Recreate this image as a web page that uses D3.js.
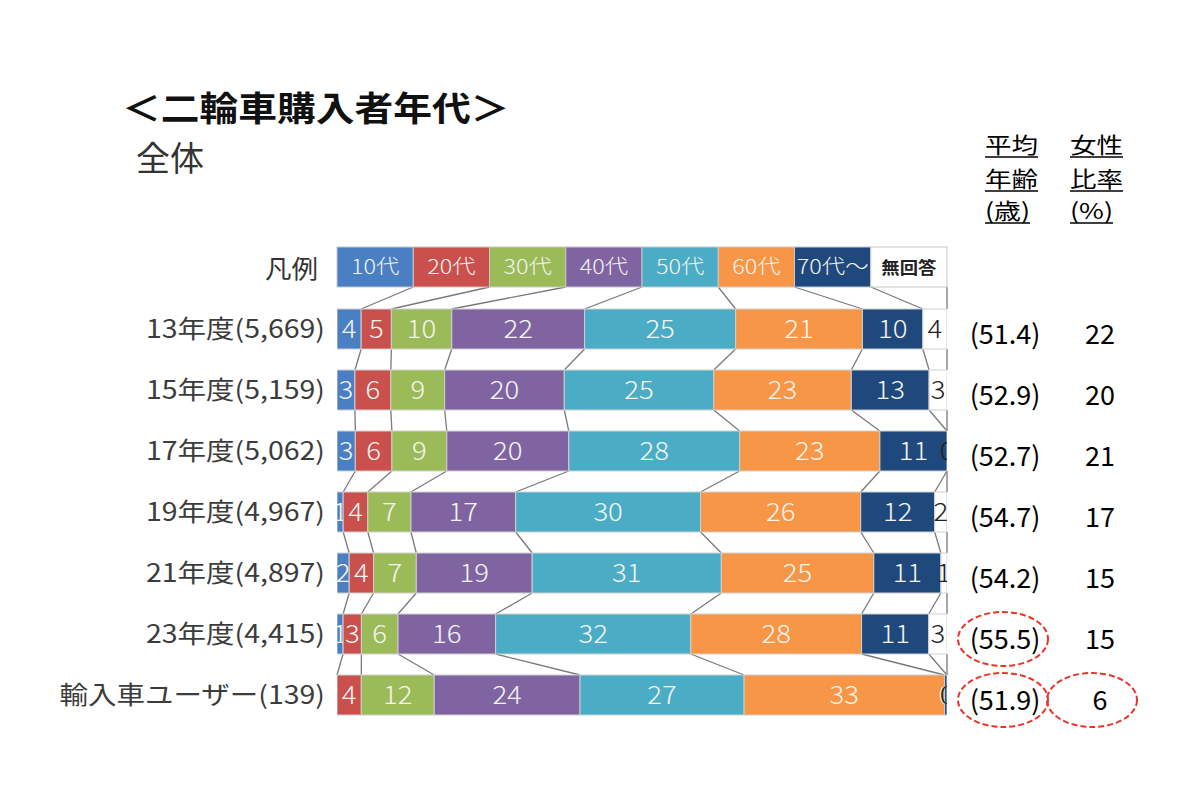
<!DOCTYPE html>
<html>
  <head>
    <meta charset="utf-8">
    <title>二輪車購入者年代</title>
    <style>
      body {
        margin: 0;
        background: #fff;
        font-family: 'Noto Sans CJK JP', 'Noto Sans', sans-serif;
      }
      .row-label {
        fill: #3c3c3c;
        font-size: 25px;
      }
      .seg-label {
        font-size: 25px;
        font-weight: 300;
      }
      .col-head {
        font-size: 22px;
        fill: #000;
      }
      .col-val {
        font-size: 27px;
        fill: #000;
      }
    </style>
  </head>
  <body>
    <svg width="1200" height="800"></svg>
    <script src="https://d3js.org/d3.v7.min.js"></script>
    <script>
      const ageGroups = ['10代', '20代', '30代', '40代', '50代', '60代', '70代～', '無回答'];
      const rowLabels = [
        '13年度(5,669)', '15年度(5,159)', '17年度(5,062)', '19年度(4,967)',
        '21年度(4,897)', '23年度(4,415)', '輸入車ユーザー(139)'
      ];
      // % per age group, same order as ageGroups
      const shares = [
        [4, 5, 10, 22, 25, 21, 10, 4],
        [3, 6, 9, 20, 25, 23, 13, 3],
        [3, 6, 9, 20, 28, 23, 11, 0],
        [1, 4, 7, 17, 30, 26, 12, 2],
        [2, 4, 7, 19, 31, 25, 11, 1],
        [1, 3, 6, 16, 32, 28, 11, 3],
        [0, 4, 12, 24, 27, 33, 0.4, 0]
      ];
      const avgAge = [51.4, 52.9, 52.7, 54.7, 54.2, 55.5, 51.9];
      const femaleRatio = [22, 20, 21, 17, 15, 15, 6];
      const avgCircled = [false, false, false, false, false, true, true];
      const femaleCircled = [false, false, false, false, false, false, true];

      const colors = ['#4a7fc4', '#c9504c', '#9bbb59', '#8064a2', '#4bacc6', '#f79646', '#1f497d', '#ffffff'];

      const svg = d3.select('svg');

      const x = d3.scaleLinear().domain([0, 1]).range([337, 947]);
      const y = d3.scalePoint().domain(rowLabels).range([329, 695]);
      const barH = 40;
      const color = d3.scaleOrdinal().domain(ageGroups).range(colors);

      const legendX = d3.scaleBand().domain(ageGroups).range([337, 947]);
      const legendTop = 247, legendBottom = 287;

      const rows = rowLabels.map((label, i) => {
        const o = {label};
        ageGroups.forEach((g, k) => { o[g] = shares[i][k]; });
        return o;
      });
      const series = d3.stack().keys(ageGroups).offset(d3.stackOffsetExpand)(rows);

      // horizontally stretched text, like the original slide
      const stretchText = (sel, tx, ty, sx, str, anchor) => {
        const g = sel.append('g').attr('transform', `translate(${tx},${ty}) scale(${sx},1)`);
        return g.append('text').attr('text-anchor', anchor || 'start').text(str);
      };

      // titles
      stretchText(svg, 122, 121, 1.14, '＜二輪車購入者年代＞')
        .style('font-size', '34px').style('font-weight', 'bold').attr('fill', '#111');
      stretchText(svg, 136, 171, 1.0, '全体')
        .style('font-size', '34px').attr('fill', '#333');
      stretchText(svg, 318, 278, 1.06, '凡例', 'end')
        .style('font-size', '25px').attr('fill', '#333');

      // connector lines
      const links = [];
      ageGroups.forEach((g, k) => {
        links.push({
          x1: legendX(g) + legendX.bandwidth(), y1: legendBottom,
          x2: x(series[k][0][1]), y2: y(rowLabels[0]) - barH / 2
        });
        for (let i = 0; i < rowLabels.length - 1; i++) {
          links.push({
            x1: x(series[k][i][1]), y1: y(rowLabels[i]) + barH / 2,
            x2: x(series[k][i + 1][1]), y2: y(rowLabels[i + 1]) - barH / 2
          });
        }
      });
      svg.append('g')
        .selectAll('line')
        .data(links)
        .enter().append('line')
          .attr('x1', d => d.x1).attr('y1', d => d.y1)
          .attr('x2', d => d.x2).attr('y2', d => d.y2)
          .attr('stroke', '#7a7a7a')
          .attr('stroke-width', 1.3);

      // legend
      const legend = svg.append('g');
      legend.selectAll('rect')
        .data(ageGroups)
        .enter().append('rect')
          .attr('x', d => legendX(d))
          .attr('y', legendTop)
          .attr('width', legendX.bandwidth())
          .attr('height', legendBottom - legendTop)
          .attr('fill', d => color(d))
          .attr('stroke', '#c8c8c8')
          .attr('stroke-width', 1);
      ageGroups.forEach((g, k) => {
        const last = k === ageGroups.length - 1;
        stretchText(legend, legendX(g) + legendX.bandwidth() / 2, (legendTop + legendBottom) / 2 + 7,
          last ? 1.08 : 1.17, g, 'middle')
          .style('font-size', last ? '17px' : '20px')
          .style('font-weight', last ? 'bold' : 300)
          .attr('fill', last ? '#222' : '#f3f3ee');
      });

      // bars and segment labels, drawn series by series so that the next
      // segment hides the overflow of a tiny segment's label
      svg.append('clipPath').attr('id', 'barclip')
        .append('rect')
          .attr('x', x(0)).attr('y', 0)
          .attr('width', x(1) - x(0)).attr('height', 800);
      const bars = svg.append('g').attr('clip-path', 'url(#barclip)');
      series.forEach((s, k) => {
        const layer = bars.append('g');
        layer.selectAll('rect')
          .data(s)
          .enter().append('rect')
            .attr('x', d => x(d[0]))
            .attr('y', d => y(d.data.label) - barH / 2)
            .attr('width', d => x(d[1]) - x(d[0]))
            .attr('height', barH)
            .attr('fill', color(s.key))
            .attr('stroke', '#cfcfcf')
            .attr('stroke-width', 1);
        s.forEach((d, i) => {
          stretchText(layer, (x(d[0]) + x(d[1])) / 2, y(d.data.label) + 9, 1.1,
            d3.format('.0f')(shares[i][k]), 'middle')
            .attr('class', 'seg-label')
            .attr('fill', k === ageGroups.length - 1 ? '#222' : '#f4f4ef');
        });
      });

      // row labels
      rowLabels.forEach(label => {
        stretchText(svg, 325, y(label) + 9, 1.14, label, 'end').attr('class', 'row-label');
      });

      // right columns
      const avgX = 1005, femX = 1100;
      const heads = [
        {x: 985, lines: ['平均', '年齢', '(歳)'], widths: [53, 53, 45]},
        {x: 1070, lines: ['女性', '比率', '(%)'], widths: [53, 53, 43]}
      ];
      const headBase = [153, 187, 219];
      heads.forEach(h => {
        h.lines.forEach((t, j) => {
          svg.append('text')
            .attr('class', 'col-head')
            .attr('x', h.x)
            .attr('y', headBase[j])
            .attr('textLength', h.widths[j])
            .attr('lengthAdjust', 'spacingAndGlyphs')
            .text(t);
          svg.append('line')
            .attr('x1', h.x).attr('x2', h.x + h.widths[j])
            .attr('y1', headBase[j] + 4).attr('y2', headBase[j] + 4)
            .attr('stroke', '#000').attr('stroke-width', 1.5);
        });
      });

      rowLabels.forEach((label, i) => {
        svg.append('text')
          .attr('class', 'col-val')
          .attr('x', avgX).attr('y', y(label) + 15)
          .attr('text-anchor', 'middle')
          .text(`(${avgAge[i].toFixed(1)})`);
        svg.append('text')
          .attr('class', 'col-val')
          .attr('x', femX).attr('y', y(label) + 15)
          .attr('text-anchor', 'middle')
          .text(femaleRatio[i]);
      });

      // dashed red highlight ellipses
      const circled = [];
      rowLabels.forEach((label, i) => {
        if (avgCircled[i]) circled.push({cx: avgX - 2, cy: y(label) + 5});
        if (femaleCircled[i]) circled.push({cx: femX - 8, cy: y(label) + 5});
      });
      svg.append('g')
        .selectAll('ellipse')
        .data(circled)
        .enter().append('ellipse')
          .attr('cx', d => d.cx)
          .attr('cy', d => d.cy)
          .attr('rx', 45)
          .attr('ry', 27)
          .attr('fill', 'none')
          .attr('stroke', '#e8352c')
          .attr('stroke-width', 2)
          .attr('stroke-dasharray', '6,3');
    </script>
  </body>
</html>
